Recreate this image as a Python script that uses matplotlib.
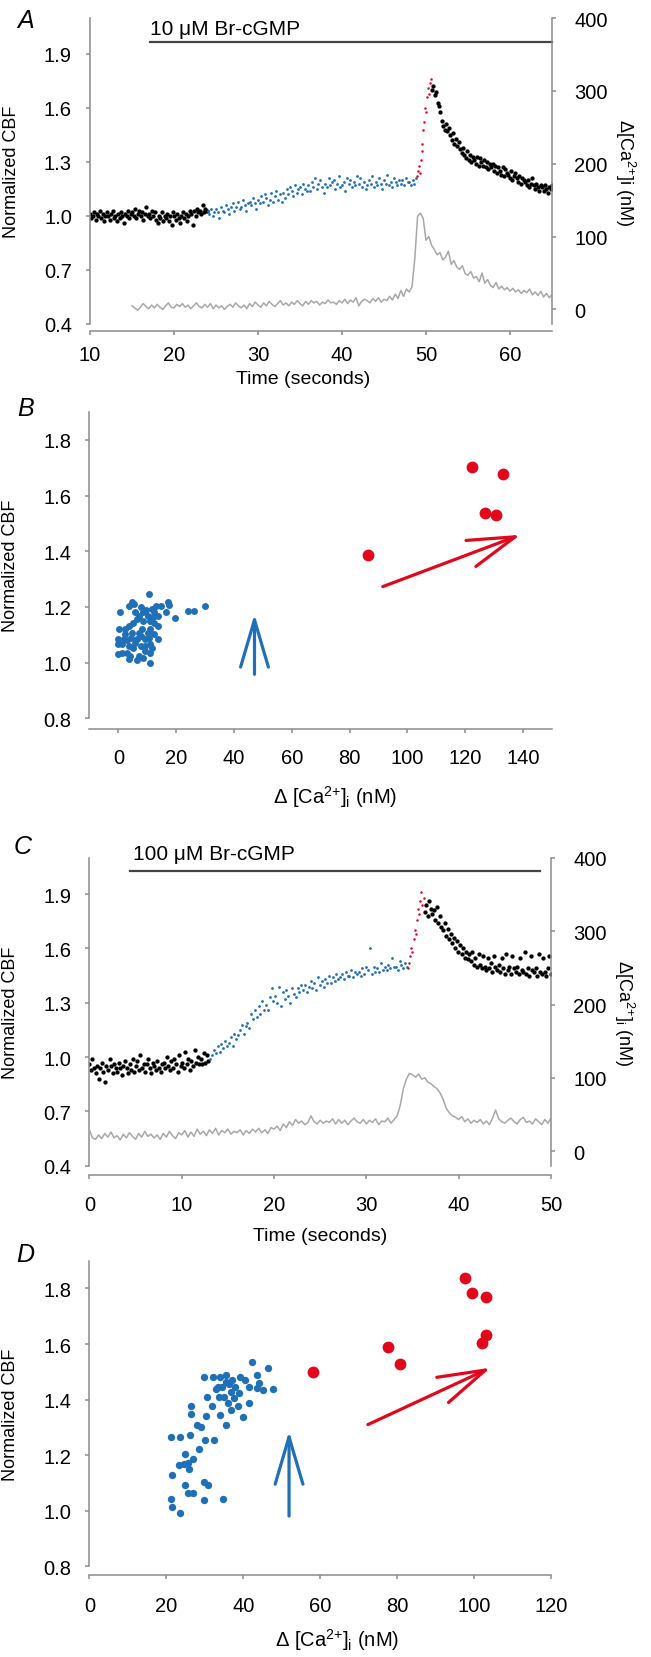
import matplotlib.pyplot as plt
import numpy as np

plt.rcParams['font.family'] = ['Liberation Sans', 'DejaVu Sans']
plt.rcParams['mathtext.default'] = 'regular'

W, H = 651, 1658
GRAY = '#8c8c8c'
BLUE = '#1f70b6'
RED = '#e2081c'
CA_GRAY = '#a8a8a8'

# ---- panel A: CBF (x100), 10 uM Br-cGMP ----
a_black1 = """101 99 100 102 98 101 100 103 99 101 97 100 102 100 98 101 103 99
100 97 101 99 102 100 96 101 100 103 99 101 102 100 104 99 101 103
100 102 98 101 105 100 101 99 103 100 102 98 96 100 99 102 97 100
99 101 97 100 95 102 100 98 101 99 96 100 102 99 101 97 100 103
101 95 103 100 104 102 103 101 106 102 104 103"""
a_blue = """103 101 104 100 102 104 102 99 105 103 102 106 104 101 105
107 103 105 108 104 105 109 106 103 107 108 106 110 107 104
109 107 111 108 112 110 106 109 113 108 111 114 109 112 108
113 110 115 112 116 114 111 117 113 115 116 112 118 115 114
117 114 119 116 121 115 118 120 116 113 118 116 121 117 119
120 115 118 122 116 117 119 114 121 118 120 116 119 117 122
118 121 116 119 115 117 120 118 122 116 119 117 121 118 115
120 118 123 117 119 116 121 119 117 120 118 120 117 121 119
119 117 120 118 121"""
a_red = "122 125 128 124 131 136 140 148 152 160 158 166 171 168 174 176"
a_black2 = """170 172 167 169 163 161 158 153 150 148 151 147 149 145 142 146 140 143
139 141 137 135 138 134 132 136 131 134 130 133 131 129 133 128 132 130
128 131 127 130 126 129 127 129 125 128 124 127 125 123 127 122 126 124
123 121 125 120 122 124 121 119 122 118 121 120 119 117 120 116 118 121
117 115 118 116 114 117 116 114 117 115 113 116 115 117"""
a_ca = """5 2 -1 3 8 4 1 6 2 7 3 0 5 9 3 2 7 4 8 3 6 1 5 9 4 2 7 3 8 1
6 2 5 0 4 7 3 9 5 2 6 1 8 4 10 6 3 9 5 11 7 4 8 12 6 9 5 10 7 12
8 5 11 7 12 9 11 6 10 8 13 9 10 7 12 9 14 8 13 10 16 5 11 14 12 9 15
11 16 10 14 12 18 13 21 15 26 18 28 24 31 70 128 132 125 95 100 88
82 75 78 68 72 80 62 67 58 55 60 49 47 52 43 45 38 50 36 41 33
30 37 28 32 27 30 25 29 24 27 22 26 23 28 20 24 19 25 17 22 16 20"""

# ---- panel C: CBF (x100), 100 uM Br-cGMP ----
c_black1 = """96 93 99 94 91 95 88 94 97 92 86 95 93 99 95 91 96 94
92 97 94 90 95 98 94 91 96 93 99 92 95 98 93 101 94 96
92 96 99 94 91 97 95 93 98 94 92 96 97 94 100 95 93 98
94 99 96 92 101 95 97 94 103 96 99 93 98 95 104 97 100 96
99 96 102 97 101 98"""
c_blue = """99 101 104 102 106 103 107 105 109 106 108 111 106 113 110
112 115 118 113 117 119 116 124 121 126 122 128 124 131 126
129 126 133 138 131 134 130 139 128 136 132 137 134 130 138
135 133 138 136 140 137 140 136 139 142 138 141 137 144 140
142 139 143 141 145 141 144 142 146 143 144 146 143 147 145
145 148 144 147 146 147 145 149 146 150 148 160 146 150 147
149 147 152 148 150 148 151 149 155 150 150 148 153 151 149 152 150"""
c_red = "149 152 156 160 158 165 170 168 176 182 179 186 191 184 188"
c_black2 = """180 184 178 186 182 179 181 176 183 174 178 172 170 174 167 171 165 168
163 166 160 164 158 162 157 160 155 158 154 157 153 158 151 155 150 157
151 149 156 150 148 155 149 152 147 156 150 148 151 147 155 149 146 157
148 150 146 156 149 147 150 146 155 148 147 158 146 149 145 156 148 147
149 145 157 147 146 155 147 145 149 156 146"""
c_ca = """29 18 16 22 17 24 19 26 18 21 15 23 18 25 20 16 24 19 27 20 23
18 22 16 24 19 27 21 17 25 22 28 19 26 20 30 23 27 21 29 24 31
22 28 25 30 23 27 25 29 22 28 24 30 26 31 25 29 24 32 30 34 28
37 32 40 35 43 38 41 36 39 48 40 37 42 38 41 39 44 37 43 38 42
36 41 45 40 38 43 37 42 39 44 36 41 40 45 38 43 48 62 85 98 106
104 101 105 98 100 94 92 88 85 79 70 58 52 48 46 43 47 40 44 38 42
39 43 37 41 36 45 56 44 40 38 42 45 40 37 43 46 39 41 37 44 40
36 43 38 45"""

# ---- panel B scatter ----
b_blue_x = [10.5, 0.7, 3.6, 4.8, 5.3, 7.9, 9.7, 11.5, 13.0, 14.9, 17.3, 17.7, 16.6,
            19.5, 24.2, 26.2, 30.1, 0.4, 2.2, 3.6, 5.0, 6.5, 8.7, 10.1, 12.0, 13.7,
            12.5, 13.7, 0.0, 1.9, 2.9, 4.3, 6.5, 9.1, 10.5, 12.5, 13.7, 0.0, 1.4,
            3.6, 5.0, 7.9, 9.4, 11.1, 0.0, 1.4, 2.9, 3.9, 7.2, 9.1, 10.8, 3.6, 6.5,
            8.7, 10.8, 8.2, 7.2, 10.1, 11.1, 5.8, 8.7, 7.2, 12.3, 10.8, 4.8, 5.8,
            2.2, 11.5, 7.9]
b_blue_y = [1.246, 1.180, 1.204, 1.218, 1.211, 1.198, 1.190, 1.194, 1.202, 1.202,
            1.218, 1.206, 1.180, 1.161, 1.185, 1.185, 1.204, 1.122, 1.120, 1.132,
            1.142, 1.156, 1.150, 1.168, 1.162, 1.168, 1.142, 1.132, 1.084, 1.086,
            1.082, 1.090, 1.084, 1.084, 1.090, 1.102, 1.084, 1.066, 1.066, 1.060,
            1.054, 1.058, 1.060, 1.066, 1.030, 1.034, 1.036, 1.024, 1.024, 1.042,
            1.036, 1.012, 1.010, 1.018, 1.000, 1.122, 1.108, 1.108, 1.120, 1.180,
            1.180, 1.168, 1.180, 1.150, 1.108, 1.072, 1.102, 1.054, 1.094]
b_red_x = [86.5, 122.5, 132.9, 126.9, 130.5]
b_red_y = [1.386, 1.703, 1.677, 1.539, 1.530]

# ---- panel D scatter ----
d_blue_x = [42.3, 21.1, 23.5, 26.2, 26.5, 26.5, 28.1, 29.0, 28.4, 30.0, 32.4, 30.2,
            30.6, 29.8, 32.1, 34.0, 35.6, 32.9, 34.6, 35.5, 36.2, 37.0, 37.8, 36.7,
            35.1, 36.0, 36.9, 38.6, 40.0, 41.4, 39.1, 40.5, 38.9, 34.0, 35.6, 23.2,
            24.5, 25.6, 27.0, 24.8, 26.0, 21.6, 21.1, 21.4, 23.5, 24.8, 25.6, 27.0,
            29.9, 30.8, 29.9, 34.8, 43.7, 44.2, 45.0, 46.4, 47.8, 43.5, 41.6, 31.9,
            33.4, 33.8, 37.5]
d_blue_y = [1.537, 1.266, 1.266, 1.272, 1.376, 1.350, 1.310, 1.302, 1.224, 1.253,
            1.253, 1.340, 1.408, 1.483, 1.483, 1.483, 1.487, 1.438, 1.447, 1.465,
            1.457, 1.471, 1.447, 1.429, 1.411, 1.388, 1.364, 1.376, 1.338, 1.388,
            1.480, 1.469, 1.424, 1.346, 1.310, 1.164, 1.167, 1.173, 1.185, 1.203,
            1.151, 1.129, 1.044, 1.014, 0.993, 1.092, 1.063, 1.063, 1.104, 1.092,
            1.039, 1.044, 1.489, 1.459, 1.433, 1.513, 1.438, 1.442, 1.445, 1.376,
            1.447, 1.411, 1.406]
d_red_x = [97.6, 99.4, 103.2, 103.2, 102.1, 77.6, 80.8, 58.1]
d_red_y = [1.839, 1.784, 1.770, 1.633, 1.605, 1.589, 1.528, 1.499]


def vals(s, scale=100.0):
    return np.array(s.split(), dtype=float) / scale


fig = plt.figure(figsize=(W / 100, H / 100), dpi=100)


def add_ax(x0, x1, y0, y1):
    return fig.add_axes([x0 / W, 1 - y1 / H, (x1 - x0) / W, (y1 - y0) / H])


def style(ax, offset, xpad):
    for s in ('top', 'right'):
        ax.spines[s].set_visible(False)
    for s in ('left', 'bottom'):
        ax.spines[s].set_color(GRAY)
        ax.spines[s].set_linewidth(1.1)
    ax.spines['bottom'].set_position(('outward', offset))
    ax.tick_params(colors=GRAY, labelcolor='black', labelsize=14.5,
                   length=3, width=1.1)
    ax.tick_params(axis='y', pad=10)
    ax.tick_params(axis='x', pad=xpad)


def right_axis(ax, label):
    ax2 = ax.twinx()
    for s in ('top', 'left', 'bottom'):
        ax2.spines[s].set_visible(False)
    ax2.spines['right'].set_color(GRAY)
    ax2.spines['right'].set_linewidth(1.1)
    ax2.set_ylim(-20, 400)
    ax2.set_yticks([0, 100, 200, 300, 400])
    ax2.tick_params(colors=GRAY, labelcolor='black', labelsize=14.5,
                    length=3, width=1.1, pad=13)
    ax2.set_ylabel(label, fontsize=13, rotation=270)
    ax2.yaxis.set_label_coords(1.158, 0.5)
    ax2.yaxis.label.set_va('center')
    return ax2


def arrow(ax, tail, tip, color):
    ax.annotate('', xy=tip, xytext=tail,
                arrowprops=dict(arrowstyle='->,head_length=3.4,head_width=1.0',
                                color=color, lw=2.3, shrinkA=0, shrinkB=0))


def time_panel(ax, t0, t1, segs, ca_t, ca, bar, bar_text, text_xy, xl_pos, rlabel):
    for (ts, ys, c, ms) in segs:
        ax.plot(ts, ys, 'o', color=c, ms=ms, mew=0)
    ax.set_xlim(t0, t1)
    ax.set_ylim(0.4, 2.1)
    ax.set_yticks([0.4, 0.7, 1.0, 1.3, 1.6, 1.9])
    ax.set_yticklabels(['0.4', '0.7', '1.0', '1.3', '1.6', '1.9'])
    ax.plot(bar[0], [bar[1], bar[1]], color='#444444', lw=1.6, clip_on=False)
    ax.text(text_xy[0], text_xy[1], bar_text, fontsize=15, va='baseline', clip_on=False)
    ax.set_ylabel('Normalized CBF', fontsize=13)
    ax.yaxis.set_label_coords(-0.1515, 0.5)
    ax.set_xlabel('Time (seconds)', fontsize=14)
    ax.xaxis.set_label_coords(*xl_pos)
    ax.xaxis.label.set_va('center')
    ax2 = right_axis(ax, rlabel)
    ax2.plot(ca_t, ca, color=CA_GRAY, lw=1.1)


# ---------- A ----------
axA = add_ax(90, 552, 19, 325)
style(axA, 5, 7)
ab1, abl, ar, ab2 = vals(a_black1), vals(a_blue), vals(a_red), vals(a_black2)
caA = vals(a_ca, 1.0)
segsA = [(np.linspace(10, 23.9, len(ab1)), ab1, 'black', 3.1),
         (np.linspace(24, 48.8, len(abl)), abl, BLUE, 2.0),
         (np.linspace(48.9, 50.6, len(ar)), ar, RED, 1.8),
         (np.linspace(50.7, 65, len(ab2)), ab2, 'black', 3.1)]
time_panel(axA, 10, 65, segsA, np.linspace(15, 65, len(caA)), caA,
           ([17.1, 65], 1.968), '10 \u03bcM Br-cGMP', (17.1, 2.01),
           (0.461, -0.178), '\u0394[Ca$^{2{+}}$]i (nM)')
axA.set_xticks([10, 20, 30, 40, 50, 60])

# ---------- B ----------
axB = add_ax(89.4, 552, 413, 719.3)
style(axB, 7.5, 11)
axB.plot(b_blue_x, b_blue_y, 'o', color=BLUE, ms=5, mew=0)
axB.plot(b_red_x, b_red_y, 'o', color=RED, ms=8.5, mew=0)
arrow(axB, (47.1, 0.958), (47.1, 1.174), BLUE)
arrow(axB, (91.5, 1.273), (139.1, 1.459), RED)
axB.set_xlim(-10, 150)
axB.set_ylim(0.8, 1.9)
axB.set_xticks([0, 20, 40, 60, 80, 100, 120, 140])
axB.set_yticks([0.8, 1.0, 1.2, 1.4, 1.6, 1.8])
axB.set_yticklabels(['0.8', '1.0', '1.2', '1.4', '1.6', '1.8'])
axB.set_ylabel('Normalized CBF', fontsize=13)
axB.yaxis.set_label_coords(-0.1515, 0.5)
axB.set_xlabel('\u0394 [Ca$^{2{+}}$]$_i$ (nM)', fontsize=14.5)
axB.xaxis.set_label_coords(0.531, -0.254)
axB.xaxis.label.set_va('center')

# ---------- C ----------
axC = add_ax(89.4, 551, 859, 1166.7)
style(axC, 6.5, 11.5)
cb1, cbl, cr, cb2 = vals(c_black1), vals(c_blue), vals(c_red), vals(c_black2)
caC = vals(c_ca, 1.0)
segsC = [(np.linspace(0, 12.9, len(cb1)), cb1, 'black', 3.1),
         (np.linspace(13.1, 34.4, len(cbl)), cbl, BLUE, 2.0),
         (np.linspace(34.5, 36.2, len(cr)), cr, RED, 1.8),
         (np.linspace(36.3, 50, len(cb2)), cb2, 'black', 3.1)]
time_panel(axC, 0, 50, segsC, np.linspace(0, 50, len(caC)), caC,
           ([4.4, 48.8], 2.03), '100 \u03bcM Br-cGMP', (4.7, 2.093),
           (0.5, -0.228), '\u0394[Ca$^{2{+}}$]$_i$ (nM)')
axC.set_xticks([0, 10, 20, 30, 40, 50])

# ---------- D ----------
axD = add_ax(89.4, 551, 1261.7, 1567.3)
style(axD, 6.5, 12)
axD.plot(d_blue_x, d_blue_y, 'o', color=BLUE, ms=5.3, mew=0)
axD.plot(d_red_x, d_red_y, 'o', color=RED, ms=8.5, mew=0)
arrow(axD, (51.9, 0.981), (51.9, 1.286), BLUE)
arrow(axD, (72.4, 1.310), (104.3, 1.515), RED)
axD.set_xlim(0, 120)
axD.set_ylim(0.8, 1.9)
axD.set_xticks([0, 20, 40, 60, 80, 100, 120])
axD.set_yticks([0.8, 1.0, 1.2, 1.4, 1.6, 1.8])
axD.set_yticklabels(['0.8', '1.0', '1.2', '1.4', '1.6', '1.8'])
axD.set_ylabel('Normalized CBF', fontsize=13)
axD.yaxis.set_label_coords(-0.1515, 0.5)
axD.set_xlabel('\u0394 [Ca$^{2{+}}$]$_i$ (nM)', fontsize=14.5)
axD.xaxis.set_label_coords(0.537, -0.238)
axD.xaxis.label.set_va('center')

# panel letters
for letter, x, y in [('A', 26, 21), ('B', 26, 409), ('C', 23, 847), ('D', 25, 1255)]:
    fig.text(x / W, 1 - y / H, letter, fontsize=18, style='italic',
             ha='center', va='center')

fig.savefig('out.png', dpi=100)
